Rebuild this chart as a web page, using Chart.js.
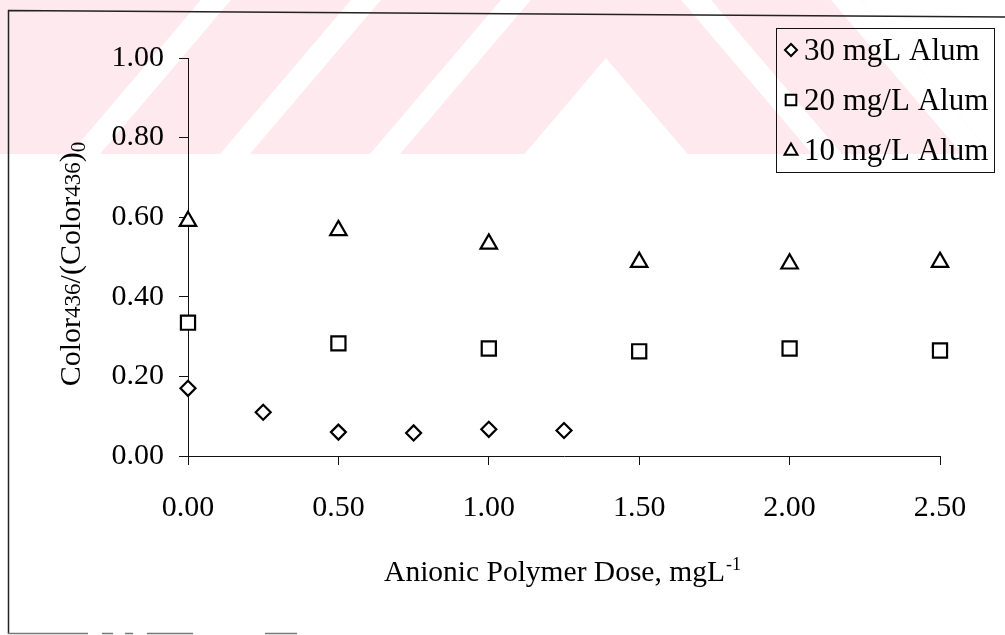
<!DOCTYPE html>
<html>
<head>
<meta charset="utf-8">
<script src="https://cdn.jsdelivr.net/npm/chart.js@4.4.0/dist/chart.umd.min.js"></script>
<style>
html,body{margin:0;padding:0;background:#fff;}
canvas{display:block;}
</style>
</head>
<body>
<canvas id="c" width="1005" height="635"></canvas>
<script>
// ---- data ----
const doses30 = [0, 0.25, 0.5, 0.75, 1.0, 1.25];
const ratio30 = [0.17, 0.11, 0.06, 0.058, 0.067, 0.064];
const doses20 = [0, 0.5, 1.0, 1.5, 2.0, 2.5];
const ratio20 = [0.335, 0.283, 0.27, 0.263, 0.27, 0.265];
const doses10 = [0, 0.5, 1.0, 1.5, 2.0, 2.5];
const ratio10 = [0.59, 0.567, 0.533, 0.487, 0.483, 0.487];
const seriesLabels = ['30 mgL Alum', '20 mg/L Alum', '10 mg/L Alum'];
const seriesShapes = ['rectRot', 'rect', 'triangle'];
const xTicks = [0, 0.5, 1.0, 1.5, 2.0, 2.5];
const yTicks = [0, 0.2, 0.4, 0.6, 0.8, 1.0];
const xTitleMain = 'Anionic Polymer Dose, mgL';
const xTitleSup = '-1';
const yTitleParts = [['Color', 0], ['436', 1], ['/(', 0], ['Color', 0], ['436', 1], [')', 0], ['0', 2]];

const SERIF = '"Liberation Serif", "Times New Roman", serif';
const INK = '#111';

function pts(xs, ys) { return xs.map((x, i) => ({ x: x, y: ys[i] })); }

const markerRadius = { rectRot: 7.5, rect: 10, triangle: 9.5 };
const legendRadius = { rectRot: 6, rect: 7.5, triangle: 7.5 };

function makeDataset(i, xs, ys) {
  const s = seriesShapes[i];
  return {
    label: seriesLabels[i],
    data: pts(xs, ys),
    pointStyle: s,
    pointRadius: markerRadius[s],
    pointHoverRadius: markerRadius[s],
    borderColor: '#000',
    backgroundColor: '#fff',
    pointBorderWidth: 2.2,
    borderWidth: 2.2,
    showLine: false,
    clip: false
  };
}

// background watermark (faint pink stripes of the scanned page)
const watermarkPlugin = {
  id: 'watermark',
  beforeDraw(chart) {
    const ctx = chart.ctx;
    ctx.save();
    ctx.fillStyle = '#fff';
    ctx.fillRect(0, 0, chart.width, chart.height);
    const H = 154, cx = 606, k = 0.85, sh = k * H;
    ctx.beginPath();
    ctx.rect(0, 0, chart.width, H);
    ctx.clip();
    ctx.fillStyle = 'rgb(253,233,238)';
    ctx.fillRect(0, 0, chart.width, H);
    ctx.fillStyle = '#fff';
    const whites = [[70, 100], [220, 250], [370, 400]];
    whites.forEach(([a, b]) => {
      ctx.beginPath();
      ctx.moveTo(a, H); ctx.lineTo(b, H); ctx.lineTo(b + sh, 0); ctx.lineTo(a + sh, 0);
      ctx.closePath(); ctx.fill();
      const ma = 2 * cx - a, mb = 2 * cx - b;
      ctx.beginPath();
      ctx.moveTo(ma, H); ctx.lineTo(mb, H); ctx.lineTo(mb - sh, 0); ctx.lineTo(ma - sh, 0);
      ctx.closePath(); ctx.fill();
    });
    // outside of the logo on the right
    ctx.beginPath();
    ctx.moveTo(2 * cx - 220, H); ctx.lineTo(chart.width, H); ctx.lineTo(chart.width, 0); ctx.lineTo(2 * cx - 220 - sh, 0);
    ctx.closePath(); ctx.fill();
    // inner white triangle
    ctx.beginPath();
    ctx.moveTo(cx, 58); ctx.lineTo(cx - 96 * k, H); ctx.lineTo(cx + 96 * k, H);
    ctx.closePath(); ctx.fill();
    ctx.restore();
  }
};

// axis titles, legend and page frame
const decorPlugin = {
  id: 'decor',
  afterDraw(chart) {
    const ctx = chart.ctx;
    const ca = chart.chartArea;
    ctx.save();
    ctx.fillStyle = '#000';
    ctx.textAlign = 'left';
    ctx.textBaseline = 'alphabetic';

    // x title with superscript
    const fMain = '29.5px ' + SERIF, fSup = '18px ' + SERIF;
    ctx.font = fMain; const w1 = ctx.measureText(xTitleMain).width;
    ctx.font = fSup; const w2 = ctx.measureText(xTitleSup).width;
    const xStart = (ca.left + ca.right) / 2 - (w1 + w2) / 2 - 2;
    ctx.font = fMain; ctx.fillText(xTitleMain, xStart, 581);
    ctx.font = fSup; ctx.fillText(xTitleSup, xStart + w1 + 1, 570);

    // y title with subscripts, rotated
    const partFont = [ '30px ' + SERIF, '23px ' + SERIF, '21px ' + SERIF ];
    const partShift = [0, 0, 5];
    let total = 0;
    yTitleParts.forEach(([t, f]) => { ctx.font = partFont[f]; total += ctx.measureText(t).width; });
    ctx.translate(80, (ca.top + ca.bottom) / 2 + 7);
    ctx.rotate(-Math.PI / 2);
    let px = -total / 2;
    yTitleParts.forEach(([t, f]) => {
      ctx.font = partFont[f];
      ctx.fillText(t, px, partShift[f]);
      px += ctx.measureText(t).width;
    });
    ctx.setTransform(1, 0, 0, 1, 0, 0);

    // legend box
    ctx.strokeStyle = INK;
    ctx.lineWidth = 1;
    ctx.strokeRect(776.5, 28.5, 218, 144);
    const rows = [50, 100, 150];
    ctx.font = '31px ' + SERIF;
    ctx.textBaseline = 'middle';
    chart.data.datasets.forEach((ds, i) => {
      const s = seriesShapes[i];
      ctx.fillStyle = '#fff';
      ctx.strokeStyle = '#000';
      ctx.lineWidth = 2;
      Chart.helpers.drawPoint(ctx, { pointStyle: s, radius: legendRadius[s], borderWidth: 2, rotation: 0 }, 791, rows[i] + (s === 'triangle' ? 1 : 0));
      ctx.fillStyle = '#000';
      ctx.fillText(ds.label, 804, rows[i] + 2);
    });

    // page frame of the scan
    ctx.strokeStyle = '#222';
    ctx.lineWidth = 1.5;
    ctx.beginPath();
    ctx.moveTo(8, 10.5); ctx.lineTo(1005, 17);
    ctx.moveTo(8.5, 10); ctx.lineTo(8.5, 634);
    ctx.stroke();
    ctx.strokeStyle = '#777';
    ctx.lineWidth = 1.5;
    ctx.beginPath();
    [[8, 88], [102, 113], [125, 133], [147, 193], [265, 297]].forEach(([a, b]) => {
      ctx.moveTo(a, 633.5); ctx.lineTo(b, 633.5);
    });
    ctx.stroke();
    ctx.restore();
  }
};

const tickFont = { family: SERIF, size: 30 };

new Chart(document.getElementById('c'), {
  type: 'scatter',
  data: {
    datasets: [
      makeDataset(0, doses30, ratio30),
      makeDataset(1, doses20, ratio20),
      makeDataset(2, doses10, ratio10)
    ]
  },
  options: {
    responsive: false,
    devicePixelRatio: 1,
    animation: false,
    events: [],
    layout: { padding: { top: 58, right: 65, bottom: 0, left: 0 } },
    plugins: { legend: { display: false }, tooltip: { enabled: false }, title: { display: false } },
    scales: {
      x: {
        type: 'linear', position: 'bottom', min: 0, max: 2.5,
        afterBuildTicks: (s) => { s.ticks = xTicks.map(v => ({ value: v })); },
        afterFit: (s) => { s.height = 179; },
        ticks: { color: '#000', font: tickFont, padding: 25, maxRotation: 0, autoSkip: false,
                 callback: (v) => Number(v).toFixed(2) },
        grid: { display: true, drawOnChartArea: false, drawTicks: true, tickLength: 9, color: INK, lineWidth: 1 },
        border: { display: true, color: INK, width: 1 }
      },
      y: {
        type: 'linear', position: 'left', min: 0, max: 1,
        afterBuildTicks: (s) => { s.ticks = yTicks.map(v => ({ value: v })); },
        afterFit: (s) => { s.width = 188; },
        ticks: { color: '#000', font: tickFont, padding: 15, autoSkip: false,
                 callback: (v) => Number(v).toFixed(2) },
        grid: { display: true, drawOnChartArea: false, drawTicks: true, tickLength: 9, color: INK, lineWidth: 1 },
        border: { display: true, color: INK, width: 1 }
      }
    }
  },
  plugins: [watermarkPlugin, decorPlugin]
});
</script>
</body>
</html>
